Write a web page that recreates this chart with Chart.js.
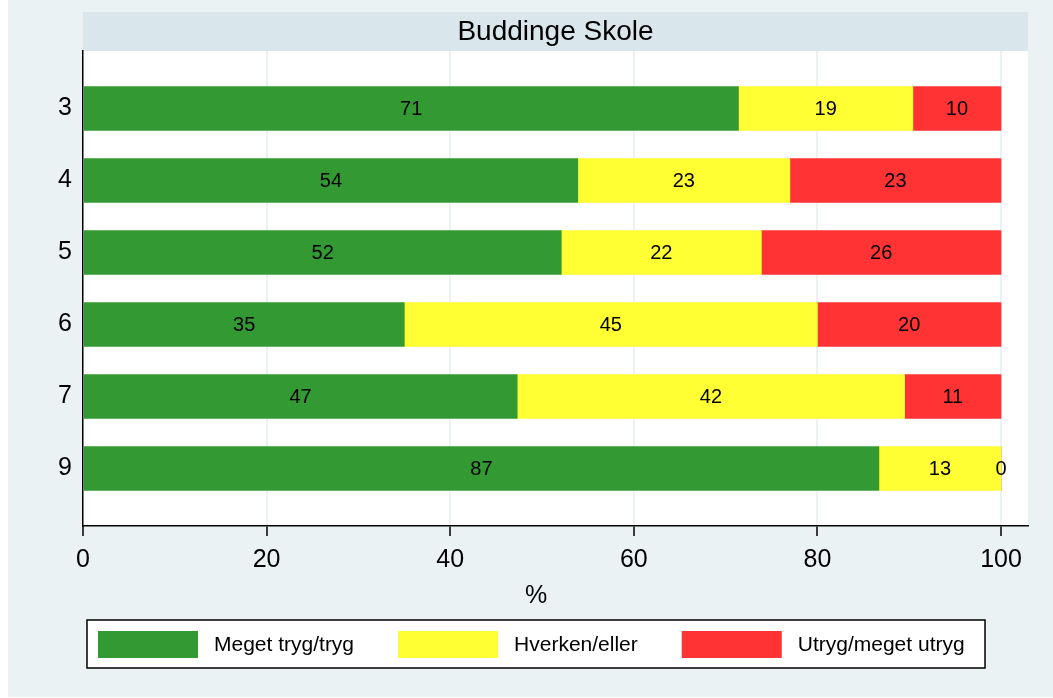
<!DOCTYPE html>
<html>
<head>
<meta charset="utf-8">
<script src="https://cdn.jsdelivr.net/npm/chart.js@4"></script>
<style>
  html, body { margin: 0; padding: 0; background: #fff; }
  #wrap { position: relative; width: 1053px; height: 698px; }
</style>
</head>
<body>
<div id="wrap"><canvas id="chart" width="1053" height="698"></canvas></div>
<script>
// data
const title = "Buddinge Skole";
const grades = ["3", "4", "5", "6", "7", "9"];
const seriesNames = ["Meget tryg/tryg", "Hverken/eller", "Utryg/meget utryg"];
const tryg = [71.4, 53.9, 52.1, 35.0, 47.3, 86.7];
const hverken = [19.0, 23.1, 21.8, 45.0, 42.2, 13.3];
const utryg = [9.6, 23.0, 26.1, 20.0, 10.5, 0];
const xTicks = [0, 20, 40, 60, 80, 100];
const xTitle = "%";

const colors = ["#339933", "#ffff33", "#ff3333"];
const FONT = "'Liberation Sans', Arial, sans-serif";

function toPoints(arr) {
  return arr.map((v, i) => ({ x: v, y: i }));
}

// background, title band, plot area
const backdrop = {
  id: "backdrop",
  beforeDraw(chart) {
    const { ctx, chartArea } = chart;
    ctx.save();
    ctx.fillStyle = "#eaf2f3";
    ctx.fillRect(8, 0, chart.width - 8, chart.height - 1);
    ctx.fillStyle = "#d9e6eb";
    ctx.fillRect(chartArea.left, 12, chartArea.right - chartArea.left, chartArea.top - 12);
    ctx.fillStyle = "#ffffff";
    ctx.fillRect(chartArea.left, chartArea.top, chartArea.right - chartArea.left, chartArea.bottom - chartArea.top);
    ctx.fillStyle = "#000";
    ctx.font = "28px " + FONT;
    ctx.textAlign = "center";
    ctx.textBaseline = "middle";
    ctx.fillText(title, (chartArea.left + chartArea.right) / 2, 32);
    ctx.restore();
  },
};

// value labels in the middle of each segment
const barLabels = {
  id: "barLabels",
  afterDatasetsDraw(chart) {
    const ctx = chart.ctx;
    ctx.save();
    ctx.font = "20px " + FONT;
    ctx.fillStyle = "#000";
    ctx.textAlign = "center";
    ctx.textBaseline = "middle";
    chart.data.datasets.forEach((ds, di) => {
      const meta = chart.getDatasetMeta(di);
      meta.data.forEach((bar, i) => {
        const v = ds.data[i].x;
        ctx.fillText(String(Math.round(v)), (bar.x + bar.base) / 2, bar.y + 1);
      });
    });
    ctx.restore();
  },
};

// axis title and boxed legend
const legendBox = {
  id: "legendBox",
  afterDraw(chart) {
    const ctx = chart.ctx;
    ctx.save();
    ctx.fillStyle = "#000";
    ctx.font = "25px " + FONT;
    ctx.textAlign = "center";
    ctx.textBaseline = "middle";
    ctx.fillText(xTitle, 536, 596);

    ctx.fillStyle = "#fff";
    ctx.fillRect(87, 620, 898, 48);
    ctx.strokeStyle = "#000";
    ctx.lineWidth = 1.5;
    ctx.strokeRect(87, 620, 898, 48);

    ctx.font = "21px " + FONT;
    ctx.textAlign = "left";
    let x = 98;
    seriesNames.forEach((name, i) => {
      ctx.fillStyle = colors[i];
      ctx.fillRect(x, 631, 100, 27);
      ctx.fillStyle = "#000";
      ctx.fillText(name, x + 116, 645);
      x += 116 + ctx.measureText(name).width + 44;
    });
    ctx.restore();
  },
};

const chart = new Chart(document.getElementById("chart"), {
  type: "bar",
  data: {
    datasets: [
      { label: seriesNames[0], data: toPoints(tryg), backgroundColor: colors[0] },
      { label: seriesNames[1], data: toPoints(hverken), backgroundColor: colors[1] },
      { label: seriesNames[2], data: toPoints(utryg), backgroundColor: colors[2] },
    ],
  },
  options: {
    indexAxis: "y",
    responsive: false,
    animation: false,
    events: [],
    layout: { padding: { left: 0, top: 51, right: 25, bottom: 0 } },
    datasets: { bar: { barThickness: 44, borderWidth: 0 } },
    plugins: {
      legend: { display: false },
      title: { display: false },
      tooltip: { enabled: false },
    },
    scales: {
      x: {
        type: "linear",
        stacked: true,
        min: 0,
        max: 102.94,
        afterBuildTicks(scale) {
          scale.ticks = xTicks.map((v) => ({ value: v }));
        },
        afterFit(scale) {
          scale.height = 172;
        },
        grid: {
          color: (c) => (c.tick && c.tick.value === 0 ? "rgba(0,0,0,0)" : "#eaf2f3"),
          lineWidth: 2,
          tickColor: "#000",
          tickWidth: 1.5,
          tickLength: 10,
        },
        border: { display: true, color: "#000", width: 1.5 },
        ticks: {
          color: "#000",
          font: { family: FONT, size: 25 },
          padding: 9,
          maxRotation: 0,
        },
      },
      y: {
        type: "linear",
        stacked: true,
        reverse: true,
        offset: false,
        min: -0.7986,
        max: 5.7986,
        afterBuildTicks(scale) {
          scale.ticks = grades.map((g, i) => ({ value: i }));
        },
        afterFit(scale) {
          scale.width = 83;
        },
        grid: { color: "rgba(0,0,0,0)", drawTicks: false, offset: false },
        border: { display: true, color: "#000", width: 1.5 },
        ticks: {
          color: "#000",
          font: { family: FONT, size: 25 },
          padding: 11,
          callback: (v) => grades[v],
        },
      },
    },
  },
  plugins: [backdrop, barLabels, legendBox],
});
</script>
</body>
</html>
